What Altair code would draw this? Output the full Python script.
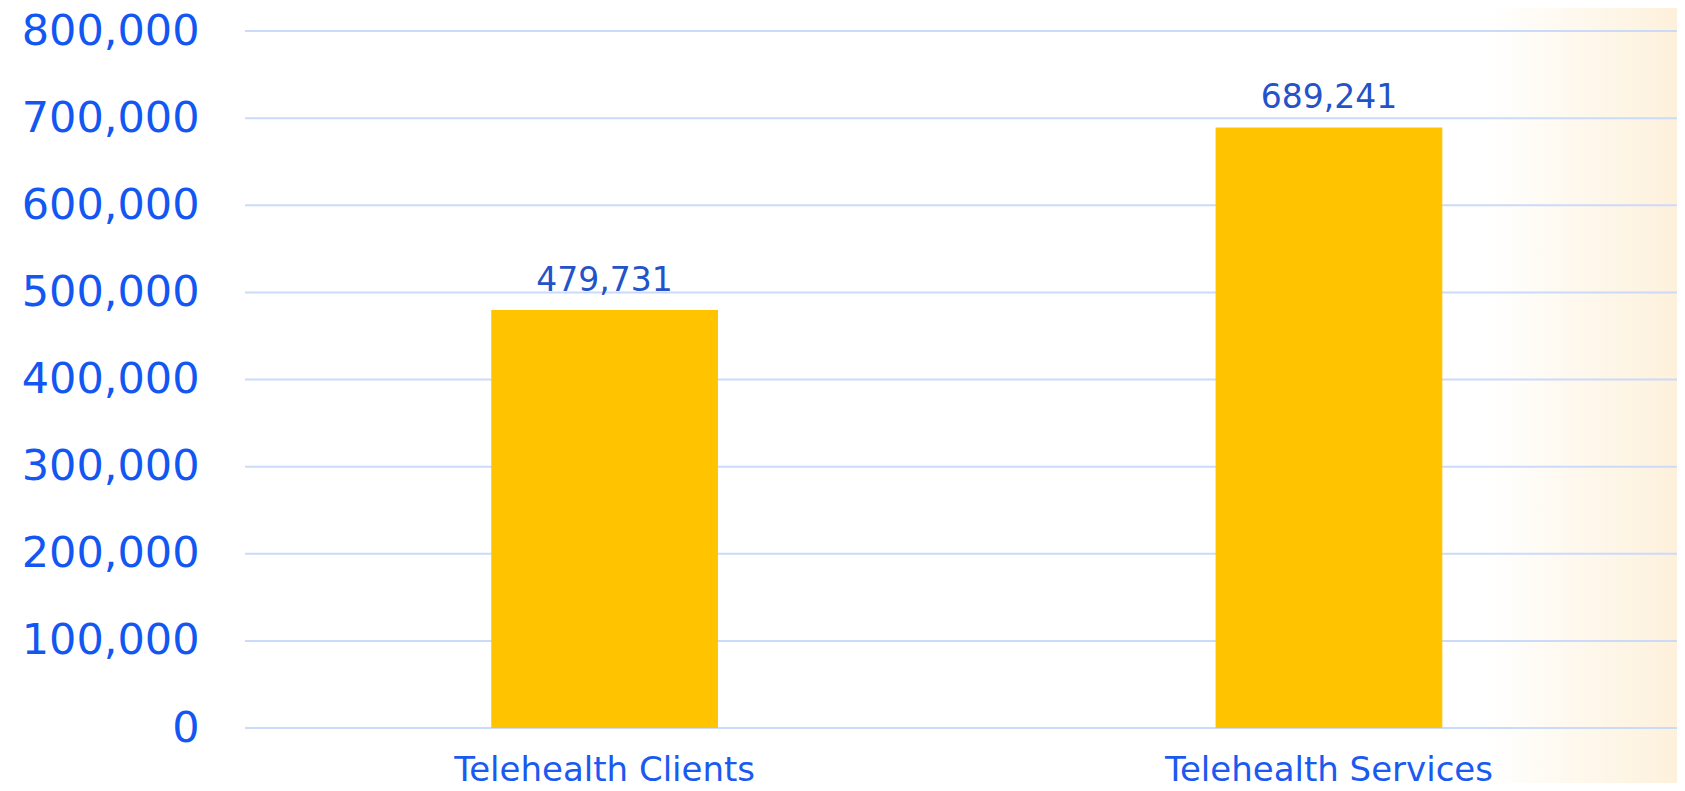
import altair as alt
import pandas as pd

categories = ["Telehealth Clients", "Telehealth Services"]
values = [479731, 689241]
y_ticks = [0, 100000, 200000, 300000, 400000, 500000, 600000, 700000, 800000]

df = pd.DataFrame({"category": categories, "value": values})
ticks_df = pd.DataFrame({"value": y_ticks})

W, H = 1432, 697
FONT = "DejaVu Sans"

x_scale = alt.Scale(paddingInner=0.687, paddingOuter=0.332, align=0.512)
y_scale = alt.Scale(domain=[0, 800000], nice=False)

y_axis = alt.Axis(
    title=None, values=y_ticks, labelExpr="format(datum.value, ',')",
    labelFontSize=43, labelFont=FONT, labelColor="#1357F2",
    labelPadding=46, ticks=False, domain=False, grid=False,
    labelLimit=800,
)

x_enc = alt.X(
    "category:N",
    sort=categories,
    scale=x_scale,
    axis=alt.Axis(
        title=None, labelAngle=0, labelFontSize=34, labelFont=FONT,
        labelColor="#1A5AF0", labelPadding=52, labelBaseline="alphabetic",
        ticks=False, domain=False, grid=False, labelLimit=800, zindex=1,
    ),
)

bg = alt.Chart(pd.DataFrame({"a": [0]})).mark_rect(
    color=alt.Gradient(
        gradient="linear", x1=0, x2=1, y1=0, y2=0,
        stops=[alt.GradientStop(color="#FFFFFF", offset=0),
               alt.GradientStop(color="#FDF1DB", offset=1)],
    )
).encode(
    x=alt.value(W - 190), x2=alt.value(W),
    y=alt.value(-23), y2=alt.value(H + 60),
)

grid = alt.Chart(ticks_df).mark_rule(color="#CCDAFA", strokeWidth=2).encode(
    y=alt.Y("value:Q", scale=y_scale, axis=y_axis),
    x=alt.value(0), x2=alt.value(W),
)

bars = alt.Chart(df).mark_bar(color="#FFC300").encode(
    x=x_enc, y=alt.Y("value:Q", scale=y_scale, axis=y_axis)
)

labels = alt.Chart(df).mark_text(
    baseline="bottom", dy=-12, fontSize=33, font=FONT, color="#2352C9"
).encode(
    x=alt.X("category:N", sort=categories),
    y=alt.Y("value:Q", scale=y_scale, axis=y_axis),
    text=alt.Text("value:Q", format=","),
)

chart = alt.layer(bg, grid, bars, labels).properties(
    width=W, height=H,
    autosize=alt.AutoSizeParams(type="none"),
    padding={"left": 237, "top": 23, "right": 0, "bottom": 55},
).configure_view(stroke=None)

chart.save("out.html", embed_options={"renderer": "svg", "actions": False})
